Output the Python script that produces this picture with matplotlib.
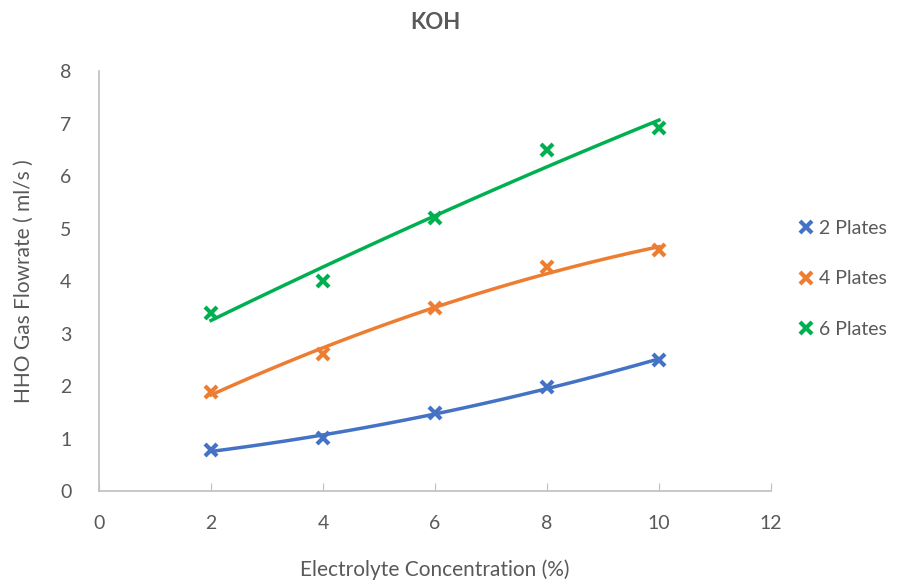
import numpy as np
import matplotlib.pyplot as plt

plt.rcParams['font.family'] = ['Lato', 'DejaVu Sans']

# electrolyte concentration (%)
conc = [2, 4, 6, 8, 10]

# HHO gas flowrate (ml/s)
plates_2 = [0.78, 1.01, 1.49, 1.98, 2.50]
plates_4 = [1.89, 2.61, 3.49, 4.27, 4.59]
plates_6 = [3.39, 4.00, 5.20, 6.50, 6.91]

labels = ['2 Plates', '4 Plates', '6 Plates']
colors = ['#4472C4', '#ED7D31', '#00B050']
text_col = '#595959'
axis_col = '#BFBFBF'

fig = plt.figure(figsize=(9.23, 5.87), dpi=100)
ax = fig.add_axes([0.1073, 0.1635, 0.7280, 0.7155])

xs = np.array(conc, dtype=float)
xfit = np.linspace(xs.min(), xs.max(), 100)
for ys, lab, col in zip([plates_2, plates_4, plates_6], labels, colors):
    ax.plot(conc, ys, linestyle='none', marker='x', markersize=9,
            markeredgewidth=3, color=col, label=lab)
    # second order polynomial trendline
    coef = np.polyfit(xs, ys, 2)
    ax.plot(xfit, np.polyval(coef, xfit), color=col, linewidth=2.5)

ax.set_xlim(0, 12)
ax.set_ylim(0, 8)
ax.set_xticks(range(0, 13, 2))
ax.set_yticks(range(0, 9))

for s in ['top', 'right']:
    ax.spines[s].set_visible(False)
for s in ['left', 'bottom']:
    ax.spines[s].set_color(axis_col)
    ax.spines[s].set_linewidth(1.2)

ax.tick_params(axis='x', direction='in', length=6, color=axis_col,
               labelsize=14, labelcolor=text_col, pad=17)
ax.tick_params(axis='y', length=0, labelsize=14, labelcolor=text_col, pad=20)

ax.set_xlabel('Electrolyte Concentration (%)', fontsize=15, color=text_col, labelpad=20)
ax.set_ylabel('HHO Gas Flowrate ( ml/s )', fontsize=15, color=text_col, labelpad=19)
ax.set_title('KOH', fontsize=16, fontweight='bold', color=text_col, pad=30)

leg = ax.legend(loc='center left', bbox_to_anchor=(1.0, 0.505), frameon=False,
                fontsize=14, labelspacing=1.72, handletextpad=0.05,
                handlelength=1.2, borderaxespad=0.8)
for t in leg.get_texts():
    t.set_color(text_col)

fig.savefig('out.png', dpi=100)
